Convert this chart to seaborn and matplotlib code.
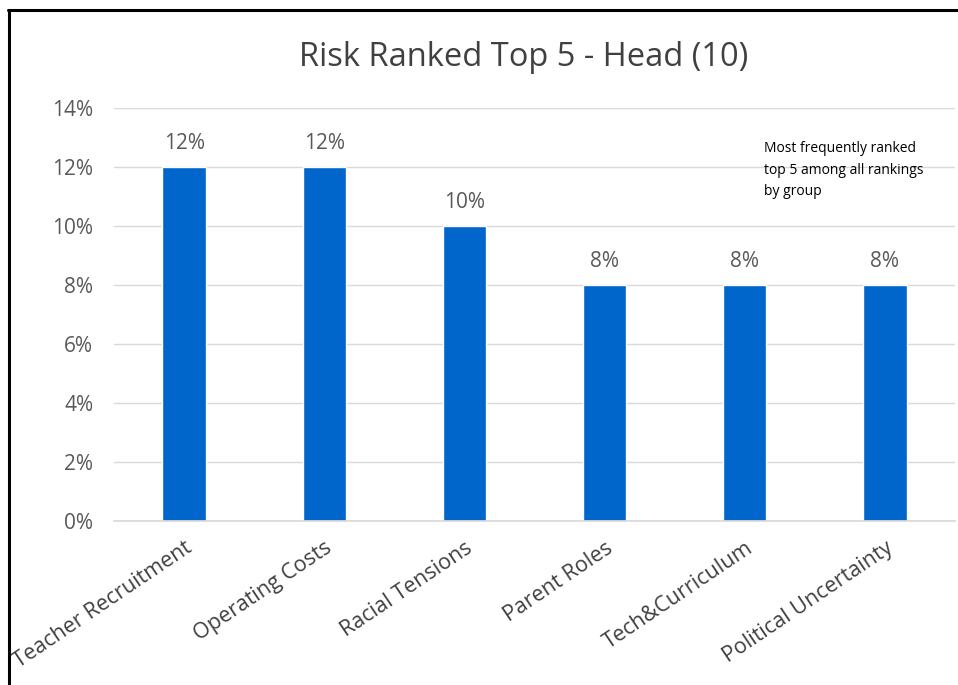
import matplotlib
matplotlib.use("Agg")
import matplotlib.pyplot as plt
import seaborn as sns
import pandas as pd
from matplotlib.lines import Line2D

categories = ["Teacher Recruitment", "Operating Costs", "Racial Tensions",
              "Parent Roles", "Tech&Curriculum", "Political Uncertainty"]
shares = [0.12, 0.12, 0.10, 0.08, 0.08, 0.08]
y_ticks = [0.0, 0.02, 0.04, 0.06, 0.08, 0.10, 0.12, 0.14]
title = "Risk Ranked Top 5 - Head (10)"
note = "Most frequently ranked\ntop 5 among all rankings\nby group"

sns.set_theme(style="white")
plt.rcParams["font.family"] = ["Open Sans", "DejaVu Sans"]

df = pd.DataFrame({"risk": categories, "share": shares})

W, H = 958, 685
fig = plt.figure(figsize=(W / 100, H / 100), dpi=100)
ax = fig.add_axes([114 / W, 1 - 521 / H, (955 - 114) / W, (521 - 108) / H])

sns.barplot(data=df, x="risk", y="share", color="#0066CC", saturation=1,
            width=0.31, ax=ax)

ax.set_ylim(0, 0.14)
ax.set_yticks(y_ticks)
ax.set_yticklabels([f"{v * 100:.0f}%" for v in y_ticks], fontsize=15, color="#595959")
ax.yaxis.grid(True, color="#d9d9d9", linewidth=1)
ax.set_axisbelow(True)
for s in ["top", "right", "left"]:
    ax.spines[s].set_visible(False)
ax.spines["bottom"].set_color("#d9d9d9")
ax.tick_params(axis="y", length=0, pad=15)
ax.tick_params(axis="x", length=0, pad=12)
ax.set_xlabel("")
ax.set_ylabel("")
ax.set_xticks(range(len(categories)))
ax.set_xticklabels(categories, rotation=34, ha="right", rotation_mode="anchor",
                   fontsize=15.5, color="#404040")

for i, v in enumerate(shares):
    ax.annotate(f"{v * 100:.0f}%", (i, v), xytext=(0, 17), textcoords="offset points",
                ha="center", va="center", fontsize=15, color="#595959")

fig.text(524 / W, 1 - 57 / H, title, ha="center", va="center", fontsize=23.5, color="#404040")
fig.text(764 / W, 1 - 141 / H, note, ha="left", va="top", fontsize=10,
         color="black", linespacing=1.6)

# frame lines along the top and left edges
fig.add_artist(Line2D([8 / W, 1], [1 - 10 / H, 1 - 10 / H], transform=fig.transFigure,
                      color="black", linewidth=2.2))
fig.add_artist(Line2D([9 / W, 9 / W], [0, 1 - 10 / H], transform=fig.transFigure,
                      color="black", linewidth=2.2))

fig.savefig("out.png", dpi=100, facecolor="white")
